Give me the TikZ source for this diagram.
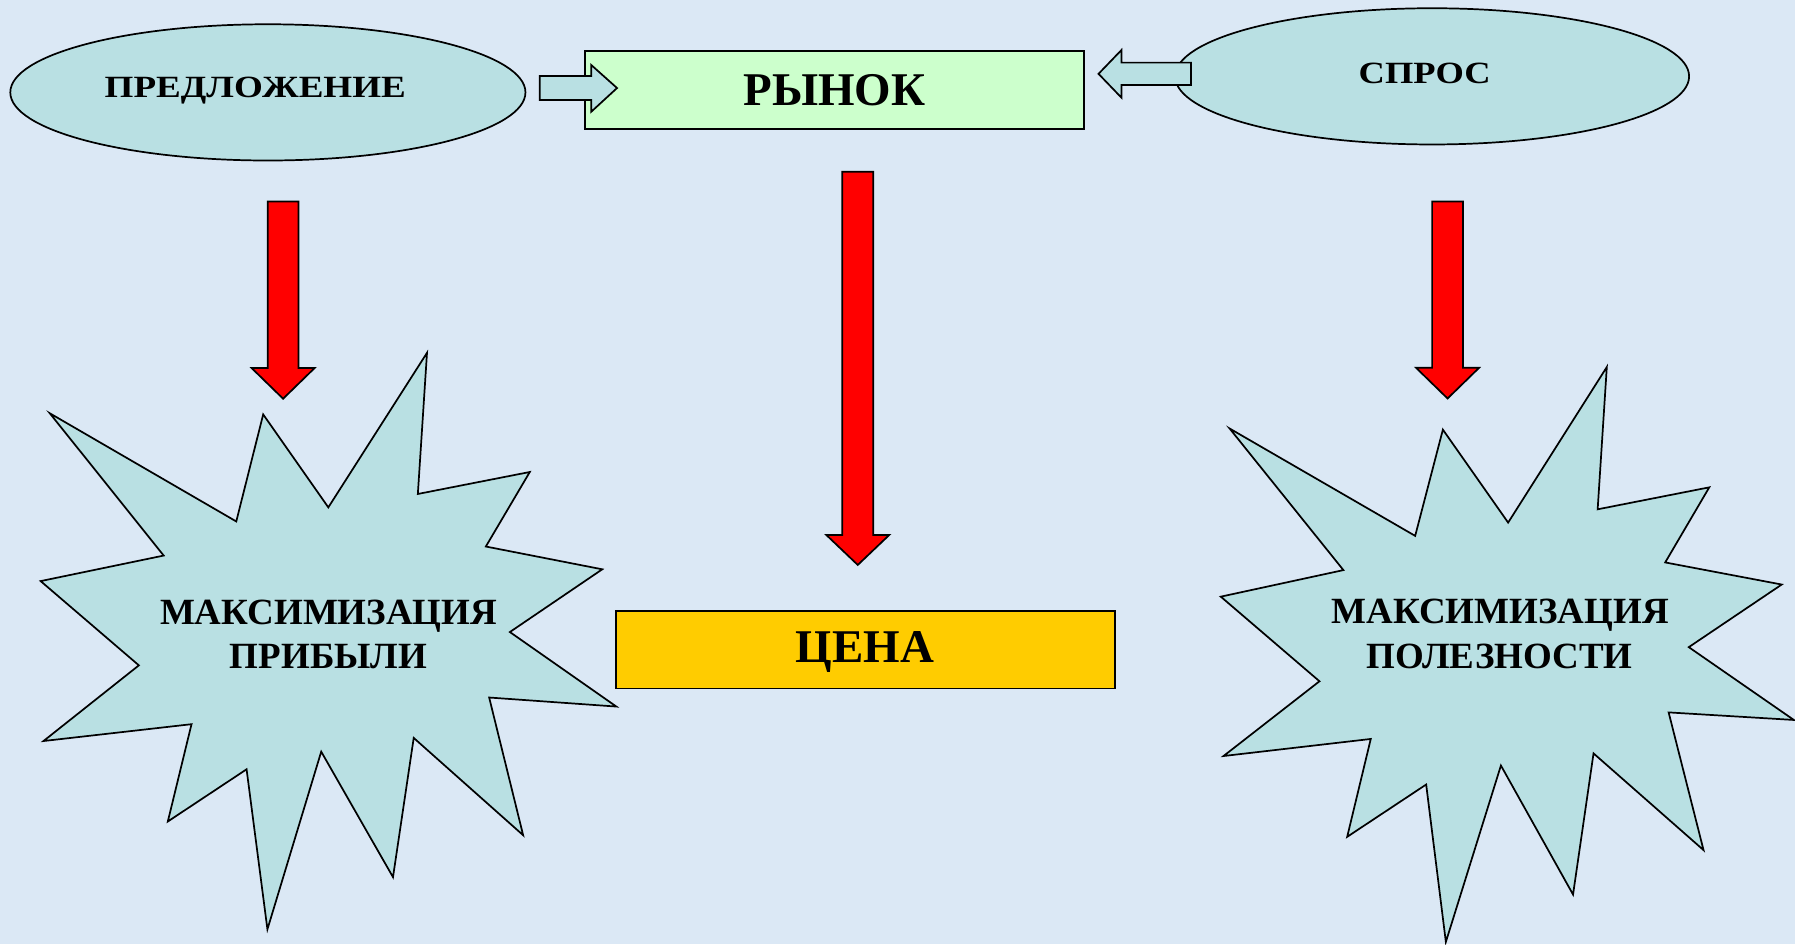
\documentclass[tikz,border=0pt]{standalone}
\usepackage{fontspec}
\setmainfont{Liberation Serif}
\usetikzlibrary{shapes.geometric}
\definecolor{bgblue}{RGB}{219,232,245}
\definecolor{ovalfill}{RGB}{185,224,227}
\definecolor{mktgreen}{RGB}{204,255,204}
\definecolor{pricegold}{RGB}{255,204,0}
\definecolor{arrred}{RGB}{255,0,0}
\tikzset{
  oval/.style={ellipse,draw=black,line width=1.5pt,fill=ovalfill,inner sep=0pt},
  boxnode/.style={rectangle,draw=black,line width=1.5pt,inner sep=0pt},
  ovaltext/.style={anchor=base,inner sep=0pt,font=\fontsize{27pt}{32pt}\selectfont\bfseries},
  bigtext/.style={anchor=base,inner sep=0pt,font=\fontsize{41pt}{48pt}\selectfont\bfseries},
  startext/.style={anchor=base,inner sep=0pt,font=\fontsize{32.3pt}{38pt}\selectfont\bfseries},
  hollowarrow/.style={draw=black,line width=1.5pt,fill=ovalfill,line join=miter},
  redarrow/.style={draw=black,line width=1.5pt,fill=arrred,line join=miter},
  starshape/.style={draw=black,line width=1.5pt,fill=ovalfill,line join=miter}
}
\newcommand\blockdown[4]{% x center, y top, y head base, y tip
  \draw[redarrow] (#1-13.5,#2) -- (#1+13.5,#2) -- (#1+13.5,#3) -- (#1+27.5,#3)
    -- (#1,#4) -- (#1-27.5,#3) -- (#1-13.5,#3) -- cycle;}
\begin{document}
\begin{tikzpicture}[x=1pt,y=-1pt]
\useasboundingbox (0,0) rectangle (1568,825);
\fill[bgblue] (0,0) rectangle (1568,825);

% ellipses
\node[oval,minimum width=450pt,minimum height=119pt] (supply) at (234,80.7) {};
\node[oval,minimum width=449pt,minimum height=119pt] (demand) at (1251,66.7) {};
\node[ovaltext] (supplyt) at (223,85.3) {\scalebox{1.2}[1]{ПРЕДЛОЖЕНИЕ}};
\node[ovaltext] (demandt) at (1244.5,72.8) {\scalebox{1.18}[1]{СПРОС}};

% market and price boxes
\node[boxnode,fill=mktgreen,minimum width=436pt,minimum height=68.7pt] (market) at (729,78.6) {};
\node[bigtext] (markett) at (729,92) {РЫНОК};
\node[boxnode,fill=pricegold,minimum width=436pt,minimum height=68pt] (price) at (755.8,567.5) {};
\node[bigtext] (pricet) at (755.5,578.7) {ЦЕНА};

% hollow block arrows
\draw[hollowarrow] (471.5,66.4) -- (516.5,66.4) -- (516.5,56.8) -- (539,76.9)
  -- (516.5,97.6) -- (516.5,87.3) -- (471.5,87.3) -- cycle;
\draw[hollowarrow] (1040.4,54.7) -- (979.6,54.7) -- (979.6,43.7) -- (959.6,64.5)
  -- (979.6,85.3) -- (979.6,74.2) -- (1040.4,74.2) -- cycle;

% left star
\draw[starshape] (43.5,361.0) -- (206.4,455.5) -- (229.9,362.0) -- (286.8,443.2)
 -- (373.0,308.2) -- (365.0,431.5) -- (462.8,412.3) -- (424.4,477.4)
 -- (526.1,497.3) -- (445.4,552.1) -- (538.4,617.2) -- (427.3,609.3)
 -- (457.0,729.6) -- (361.4,644.6) -- (343.3,766.2) -- (280.6,656.6)
 -- (233.6,811.8) -- (215.4,672.0) -- (146.6,717.6) -- (167.3,632.6)
 -- (38.0,647.3) -- (121.3,581.2) -- (35.5,507.6) -- (143.0,485.3) -- cycle;
\node[startext] (profit1) at (287,545.3) {МАКСИМИЗАЦИЯ};
\node[startext] (profit2) at (287,583.6) {ПРИБЫЛИ};

% right star
\draw[starshape] (1074.1,374.3) -- (1236.2,468.1) -- (1260.4,375.3) -- (1317.4,456.5)
 -- (1403.6,320.6) -- (1395.6,444.9) -- (1493.1,425.7) -- (1454.6,491.3)
 -- (1556.4,510.6) -- (1475.2,565.3) -- (1567.0,628.9) -- (1457.6,622.3)
 -- (1488.1,742.6) -- (1392.0,658.1) -- (1374.1,781.4) -- (1311.1,668.7)
 -- (1263.0,822.8) -- (1245.8,685.3) -- (1176.8,731.0) -- (1197.4,645.5)
 -- (1068.8,660.4) -- (1152.6,595.1) -- (1066.4,521.2) -- (1173.5,498.0) -- cycle;
\node[startext] (utility1) at (1310.5,545) {МАКСИМИЗАЦИЯ};
\node[startext] (utility2) at (1310,584.2) {ПОЛЕЗНОСТИ};

% red arrows
\blockdown{247.3}{176}{321.5}{348.3}
\blockdown{749.3}{150}{467.3}{493.5}
\blockdown{1264.5}{176}{321.3}{348.1}
\end{tikzpicture}
\end{document}
